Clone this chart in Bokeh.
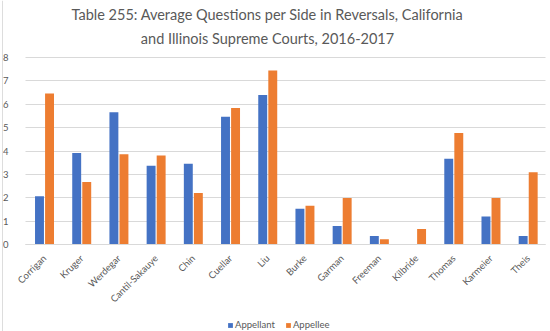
import math
from bokeh.plotting import figure
from bokeh.models import (Range1d, Legend, LegendItem, Label, Span, ColumnDataSource, FixedTicker)
from bokeh.transform import dodge
from bokeh.embed import file_html
from bokeh.resources import INLINE

justices = ["Corrigan", "Kruger", "Werdegar", "Cantil-Sakauye", "Chin", "Cuellar", "Liu",
            "Burke", "Garman", "Freeman", "Kilbride", "Thomas", "Karmeier", "Theis"]
appellant = [2.07, 3.91, 5.66, 3.37, 3.46, 5.47, 6.40, 1.53, 0.79, 0.36, 0.0, 3.67, 1.20, 0.36]
appellee = [6.46, 2.67, 3.86, 3.81, 2.20, 5.84, 7.44, 1.66, 1.99, 0.23, 0.66, 4.77, 1.99, 3.09]
y_ticks = [0, 1, 2, 3, 4, 5, 6, 7, 8]
title_lines = ["Table 255: Average Questions per Side in Reversals, California",
               "and Illinois Supreme Courts, 2016-2017"]
series_names = ["Appellant", "Appellee"]

FONT = "Lato"
GRAY = "#595959"
BLUE = "#4472C4"
ORANGE = "#ED7D31"

idx = list(range(len(justices)))
src = ColumnDataSource(dict(i=idx, j=justices, a=appellant, b=appellee))

# the frame covers the whole canvas, so titles, rotated labels, y labels and the
# legend all sit inside it without being clipped
p = figure(width=550, height=331, x_range=Range1d(-1.183, 13.60),
           y_range=Range1d(-3.722, 10.44), output_backend="svg", toolbar_location=None,
           title=None,
           min_border_top=0, min_border_left=0, min_border_right=0, min_border_bottom=0)

r1 = p.vbar(x=dodge("i", -0.135), top="a", width=0.24, source=src,
            fill_color=BLUE, line_color=None)
r2 = p.vbar(x=dodge("i", 0.135), top="b", width=0.24, source=src,
            fill_color=ORANGE, line_color=None)

p.outline_line_color = None
p.xgrid.grid_line_color = None
p.ygrid.grid_line_color = "#d9d9d9"
p.ygrid.ticker = FixedTicker(ticks=y_ticks)
try:
    p.ygrid.cross_bounds = (-0.51, 13.47)
except Exception:
    pass

p.yaxis.fixed_location = -0.645
p.yaxis.ticker = FixedTicker(ticks=y_ticks)
p.yaxis.axis_line_color = None
p.yaxis.major_tick_line_color = None
p.yaxis.minor_tick_line_color = None
p.yaxis.major_label_text_font = FONT
p.yaxis.major_label_text_font_size = "9.5px"
p.yaxis.major_label_text_color = GRAY
p.yaxis.major_label_standoff = 6

p.xaxis.fixed_location = 0
p.xaxis.bounds = (-0.51, 13.47)
p.xaxis.ticker = FixedTicker(ticks=idx)
p.xaxis.major_label_overrides = {i: name for i, name in zip(idx, justices)}
p.xaxis.axis_line_color = "#d9d9d9"
p.xaxis.major_tick_line_color = None
p.xaxis.minor_tick_line_color = None
p.xaxis.major_label_orientation = math.pi / 4
p.xaxis.major_label_text_font = FONT
p.xaxis.major_label_text_font_size = "9.5px"
p.xaxis.major_label_text_color = GRAY
p.xaxis.major_label_standoff = 6

legend = Legend(items=[LegendItem(label=series_names[0], renderers=[r1]),
                       LegendItem(label=series_names[1], renderers=[r2])],
                orientation="horizontal", location=(227, 1),
                label_text_font=FONT, label_text_font_size="9.5px", label_text_color=GRAY,
                glyph_width=6, glyph_height=6, label_standoff=2, spacing=10,
                padding=2, margin=0, border_line_color=None, background_fill_alpha=0)
p.add_layout(legend, "center")

# faint border at the chart's left edge
p.add_layout(Span(location=-1.129, dimension="height", line_color="#dddddd", line_width=1))

for t, y in zip(title_lines, [317, 293]):
    p.add_layout(Label(x=267, y=y, x_units="screen", y_units="screen", text=t,
                       text_font=FONT, text_font_size="14.5px", text_color=GRAY,
                       text_align="center", text_baseline="middle"))

open("out.html", "w").write(file_html(p, INLINE))
